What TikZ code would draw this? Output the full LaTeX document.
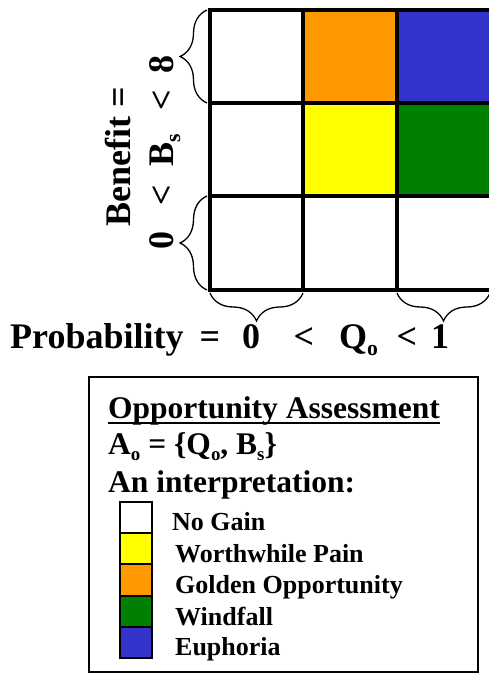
\documentclass[tikz,border=0pt]{standalone}
\usepackage{fontspec}
\usepackage{graphicx}
\setmainfont{Liberation Serif}
\usetikzlibrary{decorations.pathreplacing}
\definecolor{cOrange}{HTML}{FF9900}
\definecolor{cBlue}{HTML}{3333CC}
\definecolor{cYellow}{HTML}{FFFF00}
\definecolor{cGreen}{HTML}{008000}
\newcommand\lowsub[1]{\raisebox{-0.2em}{\scalebox{0.6}{#1}}}
\begin{document}
\begin{tikzpicture}[x=1pt,y=1pt,
  big/.style={font=\fontsize{36}{40}\selectfont\bfseries, inner sep=0pt},
  mid/.style={font=\fontsize{31.5}{34}\selectfont\bfseries, inner sep=0pt, anchor=base west},
  small/.style={font=\fontsize{26}{28}\selectfont\bfseries, inner sep=0pt, anchor=base west},
  bracestyle/.style={decorate, decoration={brace, amplitude=#1}, line width=1.3pt},
  gridline/.style={line width=3.5pt},
  swatch/.style={draw, line width=1.5pt}]
\useasboundingbox (0,0) rectangle (488,-673);
% cells
\fill[cOrange] (303,-10) rectangle (397,-103);
\fill[cBlue] (397,-10) rectangle (495,-103);
\fill[cYellow] (303,-103) rectangle (397,-196);
\fill[cGreen] (397,-103) rectangle (495,-196);
% grid
\foreach \y in {10,103,196,290} \draw[gridline] (208.25,-\y) -- (495,-\y);
\foreach \x in {210,303,397} \draw[gridline] (\x,-10) -- (\x,-290);
% braces
\coordinate (lb1) at (207,-103); \coordinate (lt1) at (207,-10);
\coordinate (lb2) at (207,-290); \coordinate (lt2) at (207,-196);
\coordinate (bl1) at (210,-293); \coordinate (br1) at (303,-293);
\coordinate (bl3) at (397,-293); \coordinate (br3) at (490,-293);
\draw[bracestyle=27pt] (lb1) -- (lt1);
\draw[bracestyle=27pt] (lb2) -- (lt2);
\draw[bracestyle=28pt] (br1) -- (bl1);
\draw[bracestyle=28pt] (br3) -- (bl3);
% vertical labels
\node[big, rotate=90, anchor=base] (ben) at (130,-157) {Benefit =};
\node[big, rotate=90, anchor=base] (v0) at (173,-240) {0};
\node[big, rotate=90, anchor=base] (vl1) at (173,-195) {<};
\node[big, rotate=90, anchor=base] (vb) at (173,-150) {B\lowsub{s}};
\node[big, rotate=90, anchor=base] (vl2) at (173,-100) {<};
\node[big, rotate=90, anchor=base] (v8) at (173,-64) {8};
% horizontal labels
\node[big, anchor=base west] (prob) at (10,-348) {Probability};
\node[big, anchor=base] (heq) at (210,-348) {=};
\node[big, anchor=base] (h0) at (251,-348) {0};
\node[big, anchor=base] (hl1) at (304,-348) {<};
\node[big, anchor=base west] (hq) at (339,-348) {Q\lowsub{o}};
\node[big, anchor=base] (hl2) at (407,-348) {<};
\node[big, anchor=base] (h1) at (440,-348) {1};
% legend
\draw[line width=1.5pt] (89,-377) rectangle (478,-672);
\node[mid] (opp) at (108,-418) {Opportunity Assessment};
\draw[line width=2.5pt] ([yshift=-5pt]opp.base west) -- ([yshift=-5pt]opp.base east);
\node[mid] (ao) at (108,-454) {A\lowsub{o} = \{Q\lowsub{o}, B\lowsub{s}\}};
\node[mid] (interp) at (108,-492) {An interpretation:};
\draw[swatch, fill=white] (120,-502) rectangle (152,-533);
\draw[swatch, fill=cYellow] (120,-533) rectangle (152,-564);
\draw[swatch, fill=cOrange] (120,-564) rectangle (152,-596);
\draw[swatch, fill=cGreen] (120,-596) rectangle (152,-627);
\draw[swatch, fill=cBlue] (120,-627) rectangle (152,-658);
\node[small] (l1) at (172,-530) {No Gain};
\node[small] (l2) at (175,-562) {Worthwhile Pain};
\node[small] (l3) at (175,-593) {Golden Opportunity};
\node[small] (l4) at (175,-625) {Windfall};
\node[small] (l5) at (175,-655) {Euphoria};
\end{tikzpicture}
\end{document}
